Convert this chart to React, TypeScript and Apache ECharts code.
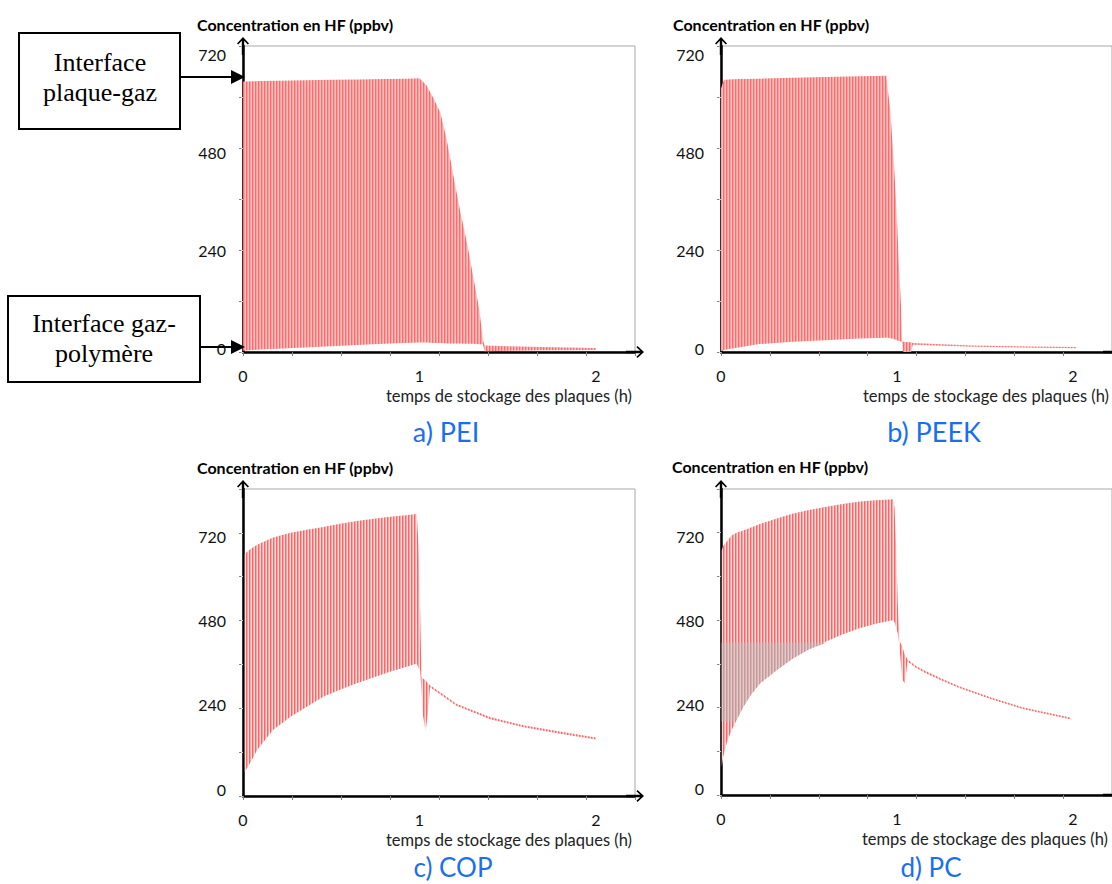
import React, { useEffect, useRef } from "react";
import * as echarts from "echarts";

// ---------- axis description ----------
const X_MAX_H = 20 / 9; // 8000 s expressed in hours
const X_MINOR_TICK_H = 5 / 18; // 1000 s expressed in hours
const X_LABEL_STEP = 1; // labels 0, 1, 2 (h)
const Y_LABEL_STEP = 240; // labels 0, 240, 480, 720
const Y_MINOR_TICK = 125;
const Y_MAX_TOP = 750;
const Y_MAX_BOTTOM = 875;

// ---------- a) PEI ----------
const peiTime = [0.0, 0.1, 0.2, 0.35, 0.5, 0.65, 0.8, 0.92, 1.0, 1.04, 1.08, 1.12, 1.155, 1.19, 1.23, 1.27, 1.305, 1.34, 1.36, 1.37, 1.5, 1.7, 2.0];
const peiHigh = [663, 664, 665, 666, 667, 668, 669, 670, 671, 654, 622, 585, 520, 438, 348, 267, 185, 103, 29, 16, 14, 12, 10];
const peiLow = [3, 6, 8, 11, 14, 17, 20, 22, 23, 23, 22, 22, 21, 21, 21, 20, 20, 19, 19, 2, 3, 4, 5];

// ---------- b) PEEK ----------
const peekTime = [0.0, 0.017, 0.1, 0.21, 0.41, 0.59, 0.79, 0.94, 0.947, 0.962, 0.971, 0.982, 0.992, 1.002, 1.011, 1.023, 1.028, 1.035, 1.08, 1.09, 1.43, 2.02];
const peekHigh = [646, 667, 669, 670, 672, 674, 676, 677, 646, 595, 536, 468, 391, 307, 213, 113, 29, 25, 24, 22, 16, 12];
const peekLow = [2, 5, 11, 19, 25, 29, 33, 35, 35, 34, 33, 32, 30, 28, 27, 26, 25, 0, 0, 18, 13, 9];

// ---------- c) COP ----------
const copTime = [0.01, 0.04, 0.08, 0.17, 0.27, 0.36, 0.455, 0.55, 0.645, 0.74, 0.833, 0.92, 0.985, 0.995, 1.004, 1.012, 1.02, 1.035, 1.05, 1.06, 1.1, 1.21, 1.4, 1.59, 1.78, 2.0];
const copHigh = [690, 703, 716, 737, 750, 759, 767, 776, 784, 790, 796, 800, 804, 717, 530, 340, 335, 330, 320, 316, 302, 263, 225, 202, 185, 167];
const copLow = [69, 93, 131, 188, 226, 254, 283, 303, 321, 338, 354, 367, 378, 365, 359, 300, 231, 183, 245, 310, 296, 257, 219, 196, 179, 161];

// ---------- d) PC ----------
const pcTime = [0.004, 0.013, 0.032, 0.06, 0.088, 0.127, 0.17, 0.221, 0.316, 0.41, 0.5, 0.599, 0.69, 0.788, 0.88, 0.977, 0.986, 0.995, 1.005, 1.015, 1.03, 1.045, 1.06, 1.1, 1.16, 1.25, 1.35, 1.54, 1.72, 1.99];
const pcHigh = [700, 712, 724, 742, 750, 756, 765, 775, 791, 805, 815, 824, 832, 839, 843, 846, 823, 712, 543, 440, 425, 400, 388, 372, 355, 334, 312, 278, 250, 221];
const pcLow = [81, 110, 148, 185, 214, 252, 287, 319, 357, 391, 417, 439, 459, 477, 490, 500, 495, 480, 462, 420, 330, 319, 382, 366, 349, 328, 307, 273, 245, 216];
// greyish zone visible inside the PC band: [t max (h), value min, value max]
const pcGreyZone = [0.6, 210, 435];

// ---------- texts ----------
const yTitle = "Concentration en HF (ppbv)";
const xTitle = "temps de stockage des plaques (h)";
const captions = ["a) PEI", "b) PEEK", "c) COP", "d) PC"];

const FONT = "Lato, 'Open Sans', sans-serif";

function stripes(c1: string, c2: string, c3: string) {
  const svg =
    `<svg xmlns="http://www.w3.org/2000/svg" width="3" height="4">` +
    `<rect width="3" height="4" fill="${c2}"/>` +
    `<rect x="0" width="1" height="4" fill="${c1}"/>` +
    `<rect x="2" width="1" height="4" fill="${c3}"/></svg>`;
  return {
    image: "data:image/svg+xml;charset=utf-8," + encodeURIComponent(svg),
    repeat: "repeat",
    imageWidth: 3,
    imageHeight: 4,
  };
}

const ARROW =
  "path://M6,0 L12,6.5 L10.8,7.6 L7.2,3.8 L7.2,18 L4.8,18 L4.8,3.8 L1.2,7.6 L0,6.5 Z";

function bandSeries(p: number, time: number[], low: number[], high: number[], fill: any, z: number) {
  return {
    type: "custom",
    xAxisIndex: p * 2,
    yAxisIndex: p * 3,
    silent: true,
    z,
    data: time.map((t, i) => [t, low[i], high[i]]),
    encode: { x: 0, y: [1, 2] },
    renderItem: (params: any, api: any) => {
      if (params.dataIndex !== 0) return null;
      const top = time.map((t, i) => api.coord([t, high[i]]));
      const bot = time.map((t, i) => api.coord([t, low[i]])).reverse();
      return {
        type: "polygon",
        shape: { points: top.concat(bot) },
        style: { fill, stroke: null },
      };
    },
  };
}

function buildOption() {
  const grids = [
    { left: 243, top: 46, width: 392, height: 306 },
    { left: 721, top: 46, width: 392, height: 306 },
    { left: 243, top: 489, width: 392, height: 307 },
    { left: 721, top: 489, width: 392, height: 306 },
  ];
  const yMax = [Y_MAX_TOP, Y_MAX_TOP, Y_MAX_BOTTOM, Y_MAX_BOTTOM];
  const labelLineH = [7, 7, 14, 14];
  const xAxis: any[] = [];
  const yAxis: any[] = [];
  grids.forEach((_, p) => {
    xAxis.push({
      gridIndex: p,
      type: "value",
      min: 0,
      max: X_MAX_H,
      interval: X_LABEL_STEP,
      position: "bottom",
      axisLine: {
        show: true,
        onZero: false,
        lineStyle: { color: "#000", width: 2.5 },
        symbol: ["none", ARROW],
        symbolSize: [12, 18],
        symbolOffset: [0, 0],
      },
      axisTick: { show: false },
      splitLine: { show: false },
      axisLabel: {
        color: "#111",
        fontSize: 16,
        fontFamily: FONT,
        margin: 15,
        showMaxLabel: false,
        formatter: (v: number) => (Math.abs(v - Math.round(v)) < 1e-6 ? String(Math.round(v)) : ""),
      },
    });
    xAxis.push({
      gridIndex: p,
      type: "value",
      min: 0,
      max: X_MAX_H,
      interval: X_MINOR_TICK_H,
      position: "top",
      axisLine: { show: false },
      axisTick: { show: true, inside: true, length: 4, lineStyle: { color: "#808080", width: 1 } },
      axisLabel: { show: false },
      splitLine: { show: false },
    });
    yAxis.push({
      gridIndex: p,
      type: "value",
      min: 0,
      max: yMax[p],
      interval: Y_LABEL_STEP,
      position: "left",
      axisLine: {
        show: true,
        onZero: false,
        lineStyle: { color: "#000", width: 2.5 },
        symbol: ["none", ARROW],
        symbolSize: [12, 18],
        symbolOffset: [0, 0],
      },
      axisTick: { show: false },
      splitLine: { show: false },
      axisLabel: {
        color: "#111",
        fontSize: 16,
        fontFamily: FONT,
        margin: 17,
        showMaxLabel: false,
        verticalAlign: "bottom",
        lineHeight: labelLineH[p],
      },
    });
    yAxis.push({
      gridIndex: p,
      type: "value",
      min: 0,
      max: yMax[p],
      interval: Y_MINOR_TICK,
      position: "right",
      axisLine: { show: false },
      axisTick: { show: true, inside: true, length: 4, lineStyle: { color: "#808080", width: 1 } },
      axisLabel: { show: false },
      splitLine: { show: false },
    });
    yAxis.push({
      gridIndex: p,
      type: "value",
      min: 0,
      max: yMax[p],
      interval: Y_MINOR_TICK,
      position: "left",
      offset: 3,
      axisLine: { show: false },
      axisTick: { show: true, inside: false, length: 2, lineStyle: { color: "#c8c8c8", width: 1 } },
      axisLabel: { show: false },
      splitLine: { show: false },
    });
  });

  const redA = stripes("#ff6b6b", "#ffa0a0", "#ffc2c2");
  const redC = stripes("#ff6464", "#ffa4a4", "#ffdede");
  const grey = stripes("#c49a9a", "#d6b0b0", "#e4caca");

  // grey zone polygon for PC built from the PC arrays
  const gzTime: number[] = [];
  const gzLow: number[] = [];
  const gzHigh: number[] = [];
  pcTime.forEach((t, i) => {
    if (t <= pcGreyZone[0]) {
      gzTime.push(t);
      gzLow.push(Math.min(Math.max(pcLow[i], pcGreyZone[1]), pcGreyZone[2]));
      gzHigh.push(pcGreyZone[2]);
    }
  });

  const series: any[] = [
    bandSeries(0, peiTime, peiLow, peiHigh, redA, 2),
    bandSeries(1, peekTime, peekLow, peekHigh, redA, 2),
    bandSeries(2, copTime, copLow, copHigh, redC, 2),
    bandSeries(3, pcTime, pcLow, pcHigh, redC, 2),
    bandSeries(3, gzTime, gzLow, gzHigh, grey, 3),
  ];

  const txt = (x: number, y: number, text: string, size: number, align: string, extra: any = {}) => ({
    type: "text",
    x,
    y,
    z: 50,
    silent: true,
    style: {
      text,
      fill: extra.fill || "#000",
      fontSize: size,
      fontFamily: extra.fontFamily || FONT,
      fontWeight: extra.fontWeight || "normal",
      align,
      textAlign: align,
      verticalAlign: "middle",
      textVerticalAlign: "middle",
    },
  });

  const SERIF = "'Liberation Serif', 'Times New Roman', serif";
  const graphic: any[] = [
    txt(197, 24, yTitle, 16, "left", { fontWeight: "bold" }),
    txt(673, 24, yTitle, 16, "left", { fontWeight: "bold" }),
    txt(197, 467, yTitle, 16, "left", { fontWeight: "bold" }),
    txt(672, 466, yTitle, 16, "left", { fontWeight: "bold" }),
    txt(632, 396, xTitle, 16.5, "right", { fill: "#222" }),
    txt(1109, 396, xTitle, 16.5, "right", { fill: "#222" }),
    txt(632, 840, xTitle, 16.5, "right", { fill: "#222" }),
    txt(1108, 839, xTitle, 16.5, "right", { fill: "#222" }),
    txt(446, 431, captions[0], 27, "center", { fill: "#1a6ff0" }),
    txt(934, 431, captions[1], 27, "center", { fill: "#1a6ff0" }),
    txt(453, 867, captions[2], 26, "center", { fill: "#1a6ff0" }),
    txt(931, 867, captions[3], 26, "center", { fill: "#1a6ff0" }),
    // annotation boxes
    {
      type: "rect",
      z: 40,
      silent: true,
      shape: { x: 19, y: 33, width: 161, height: 96 },
      style: { fill: "#fff", stroke: "#000", lineWidth: 2 },
    },
    txt(100, 62, "Interface", 26, "center", { fontFamily: SERIF }),
    txt(100, 92, "plaque-gaz", 26, "center", { fontFamily: SERIF }),
    {
      type: "rect",
      z: 40,
      silent: true,
      shape: { x: 8, y: 296, width: 192, height: 86 },
      style: { fill: "#fff", stroke: "#000", lineWidth: 2 },
    },
    txt(104, 323, "Interface gaz-", 26, "center", { fontFamily: SERIF }),
    txt(104, 353, "polymère", 26, "center", { fontFamily: SERIF }),
    {
      type: "line",
      z: 45,
      silent: true,
      shape: { x1: 180, y1: 77, x2: 233, y2: 77 },
      style: { stroke: "#000", lineWidth: 2 },
    },
    {
      type: "polygon",
      z: 45,
      silent: true,
      shape: { points: [[231, 70], [245, 77], [231, 84]] },
      style: { fill: "#000" },
    },
    {
      type: "line",
      z: 45,
      silent: true,
      shape: { x1: 200, y1: 347, x2: 233, y2: 347 },
      style: { stroke: "#000", lineWidth: 2 },
    },
    {
      type: "polygon",
      z: 45,
      silent: true,
      shape: { points: [[231, 340], [245, 347], [231, 354]] },
      style: { fill: "#000" },
    },
  ];

  return {
    animation: false,
    backgroundColor: "#fff",
    grid: grids.map((g) => ({ ...g, show: true, borderColor: "#a8a8a8", borderWidth: 1, backgroundColor: "transparent" })),
    xAxis,
    yAxis,
    series,
    graphic,
  };
}

export default function App() {
  const ref = useRef<HTMLDivElement>(null);
  useEffect(() => {
    if (!ref.current) return;
    const chart = echarts.init(ref.current, null, { renderer: "svg" });
    chart.setOption(buildOption() as any);
    return () => chart.dispose();
  }, []);
  return (
    <div
      ref={ref}
      style={{ position: "absolute", left: 0, top: 0, width: 1112, height: 884, background: "#fff" }}
    />
  );
}
